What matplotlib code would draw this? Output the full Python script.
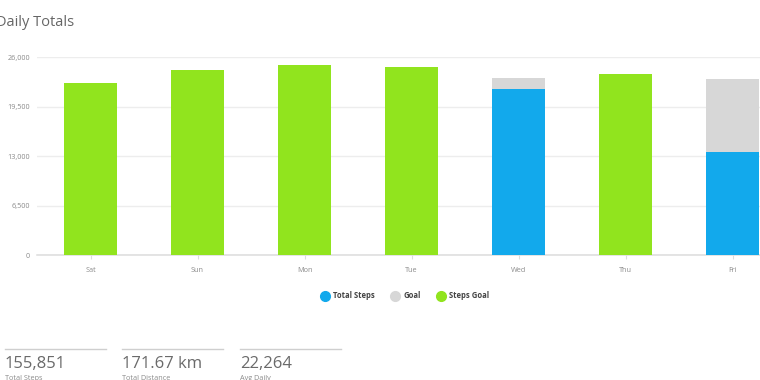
import numpy as np
import matplotlib
matplotlib.use("Agg")
import matplotlib.pyplot as plt
from matplotlib.lines import Line2D

plt.rcParams['font.family'] = ['Open Sans', 'DejaVu Sans']

days = ["Sat", "Sun", "Mon", "Tue", "Wed", "Thu", "Fri"]
steps = [22670, 24290, 24980, 24770, 21790, 23760, 13591]
goals = [np.nan, np.nan, np.nan, np.nan, 23230, np.nan, 23190]
yticks = [0, 6500, 13000, 19500, 26000]
ytick_labels = ["0", "6,500", "13,000", "19,500", "26,000"]
legend_labels = ["Total Steps", "Goal", "Steps Goal"]
stat_values = ["155,851", "171.67 km", "22,264"]
stat_labels = ["Total Steps", "Total Distance", "Avg Daily"]

BLUE = "#12A9EC"
GRAY = "#D7D7D7"
GREEN = "#91E41E"
TXT = "#8a8a8a"

W, H = 760, 380
fig = plt.figure(figsize=(W / 100, H / 100), dpi=100)
fig.patch.set_facecolor("white")

ax_left, ax_right = 37, 786
ax_bottom, ax_top = 255, 57.3
ax = fig.add_axes([ax_left / W, 1 - ax_bottom / H, (ax_right - ax_left) / W,
                   (ax_bottom - ax_top) / H])

x = np.arange(len(days))
bw = 0.49
for i in range(len(days)):
    s = steps[i]
    g = goals[i]
    if np.isnan(g) or s >= g:
        ax.bar(x[i], s, width=bw, color=GREEN, zorder=3)
    else:
        ax.bar(x[i], s, width=bw, color=BLUE, zorder=3)
        ax.bar(x[i], g - s, bottom=s, width=bw, color=GRAY, zorder=3)

ax.set_xlim(-0.5, len(days) - 0.5)
ax.set_ylim(0, 26000)
ax.set_yticks(yticks)
ax.set_yticklabels(ytick_labels)
ax.set_xticks(x)
ax.set_xticklabels(days)
ax.grid(axis="y", color="#ededed", linewidth=1.0, zorder=0)
ax.set_axisbelow(True)
for sp in ["top", "right", "left"]:
    ax.spines[sp].set_visible(False)
ax.spines["bottom"].set_color("#dcdcdc")
ax.spines["bottom"].set_linewidth(1.1)
ax.tick_params(axis="y", length=0, labelsize=5.2, labelcolor=TXT, pad=5)
ax.tick_params(axis="x", length=3, color="#dcdcdc", labelsize=5.2,
               labelcolor=TXT, pad=6)

fig.text(-4 / W, 1 - 22 / H, "Daily Totals", fontsize=10.5, color="#666666",
         va="center", ha="left")

handles = [Line2D([], [], marker="o", linestyle="", markersize=7,
                  markerfacecolor=c, markeredgecolor=c)
           for c in [BLUE, GRAY, GREEN]]
fig.legend(handles, legend_labels, loc="center", ncol=3,
           bbox_to_anchor=(405 / W, 1 - 296 / H), frameon=False,
           prop={"size": 5.5, "weight": "bold"}, labelcolor="#444444",
           handletextpad=0.55, columnspacing=2.2, handlelength=1.0)

starts = [5, 122, 240]
for i in range(3):
    x0 = starts[i]
    fig.add_artist(Line2D([x0 / W, (x0 + 101) / W], [1 - 349 / H, 1 - 349 / H],
                          color="#cfcfcf", linewidth=1.0))
    fig.text(x0 / W, 1 - 364 / H, stat_values[i], fontsize=12, color="#6a6a6a",
             va="center", ha="left")
    fig.text(x0 / W, 1 - 378 / H, stat_labels[i], fontsize=5.2, color=TXT,
             va="center", ha="left")

fig.savefig("out.png", dpi=100, facecolor="white")
